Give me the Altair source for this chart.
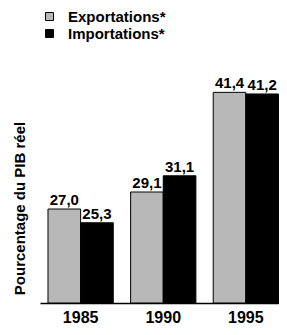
import altair as alt
import pandas as pd

years = ["1985", "1990", "1995"]
series = ["Exportations*", "Importations*"]
exports = [27.0, 29.1, 41.4]
imports = [25.3, 31.1, 41.2]
colors = ["#b8b8b8", "#000000"]

rows = []
for y, e, i in zip(years, exports, imports):
    rows.append({"year": y, "series": series[0], "value": e})
    rows.append({"year": y, "series": series[1], "value": i})
df = pd.DataFrame(rows)
df["label"] = df["value"].map(lambda v: f"{v:.1f}".replace(".", ","))

FONT = "Liberation Sans"
YMIN, YMAX = 15.4, 44.9

base = alt.Chart(df).encode(
    x=alt.X(
        "year:N",
        scale=alt.Scale(paddingInner=0.21, paddingOuter=0.0515, align=0.94),
        axis=alt.Axis(
            title=None, labelAngle=0, ticks=False, labelFont=FONT,
            labelFontSize=16, labelFontWeight="bold", labelColor="black",
            domainColor="black", domainWidth=1.5, labelPadding=6,
        ),
    ),
    xOffset=alt.XOffset("series:N", scale=alt.Scale(paddingInner=0, paddingOuter=0)),
)

bars = base.mark_bar(stroke="black", strokeWidth=1).encode(
    y=alt.Y(
        "value:Q",
        scale=alt.Scale(domain=[YMIN, YMAX], zero=False, nice=False),
        axis=alt.Axis(
            title="Pourcentage du PIB réel", labels=False, ticks=False,
            domain=False, grid=False, titleFont=FONT, titleFontSize=15,
            titleFontWeight="bold", titleColor="black", titleAngle=270,
            titleX=-21, titleY=144, titleAlign="center", titleBaseline="middle",
        ),
    ),
    y2=alt.datum(YMIN),
    color=alt.Color(
        "series:N",
        scale=alt.Scale(domain=series, range=colors),
        legend=alt.Legend(
            title=None, orient="none", legendX=2, legendY=-55,
            symbolType="square", symbolSize=64, symbolStrokeColor="black",
            symbolStrokeWidth=1, labelFont=FONT, labelFontSize=15,
            labelFontWeight="bold", labelColor="black", labelOffset=11,
            rowPadding=1, padding=0,
        ),
    ),
)

text = base.mark_text(
    baseline="bottom", dy=-1, font=FONT, fontSize=15, fontWeight="bold", color="black"
).encode(y="value:Q", text="label:N")

chart = (
    alt.layer(bars, text)
    .properties(
        width=239, height=239,
        autosize=alt.AutoSizeParams(type="none"),
        padding={"left": 32, "top": 56, "right": 0, "bottom": 23},
    )
    .configure_view(stroke=None)
)

chart.save("out.html", embed_options={"renderer": "svg", "actions": False})
